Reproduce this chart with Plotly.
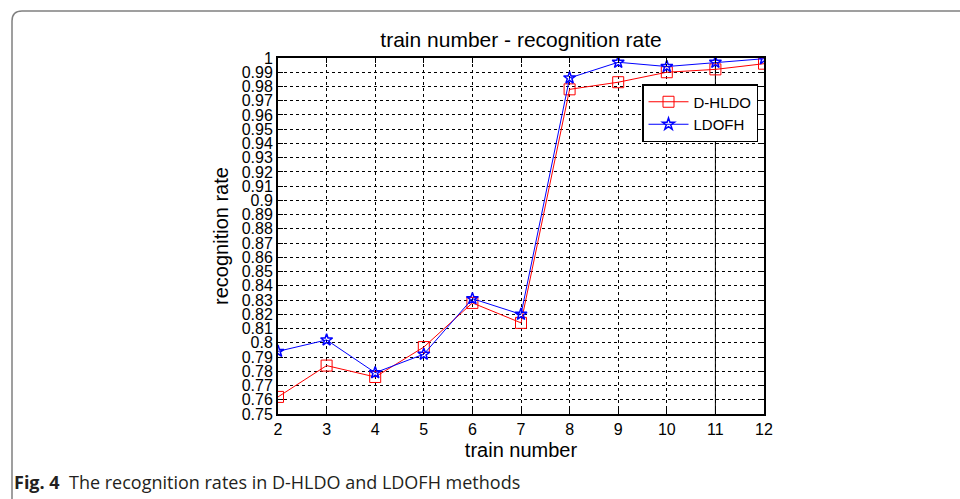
import plotly.graph_objects as go

train_number = [2, 3, 4, 5, 6, 7, 8, 9, 10, 11, 12]
d_hldo = [0.762, 0.784, 0.776, 0.797, 0.828, 0.814, 0.978, 0.983, 0.990, 0.992, 0.996]
ldofh = [0.794, 0.802, 0.779, 0.792, 0.831, 0.820, 0.986, 0.997, 0.994, 0.997, 0.9995]

y_tick_vals = [round(0.75 + 0.01 * i, 2) for i in range(26)]
y_tick_text = ["0.75", "0.76", "0.77", "0.78", "0.79", "0.8", "0.81", "0.82", "0.83", "0.84",
               "0.85", "0.86", "0.87", "0.88", "0.89", "0.9", "0.91", "0.92", "0.93", "0.94",
               "0.95", "0.96", "0.97", "0.98", "0.99", "1"]
x_tick_vals = [2, 3, 4, 5, 6, 7, 8, 9, 10, 11, 12]

W, H = 960, 499
L, R, T, B = 278, 764, 58, 414


def px(X):
    return (X - L) / (R - L)


def py(Y):
    return (B - Y) / (B - T)


fig = go.Figure()
fig.add_trace(go.Scatter(
    x=train_number, y=d_hldo, name="D-HLDO", mode="lines+markers",
    line=dict(color="#ff0000", width=1),
    marker=dict(symbol="square-open", size=11, color="#ff0000", line=dict(width=1)),
))
fig.add_trace(go.Scatter(
    x=train_number, y=ldofh, name="LDOFH", mode="lines+markers",
    line=dict(color="#0000ff", width=1),
    marker=dict(symbol="star-open", size=9, color="#0000ff", line=dict(width=1.5)),
))

font_main = "Liberation Sans, Arial, sans-serif"

# rounded frame path (pixel coords -> paper coords)
r = 10
fx, fy = 12, 11
frame_path = (f"M {px(fx)},{py(H + 5)} L {px(fx)},{py(fy + r)} "
              f"Q {px(fx)},{py(fy)} {px(fx + r)},{py(fy)} L {px(W + 5)},{py(fy)}")

fig.update_layout(
    width=W, height=H,
    margin=dict(l=L, r=W - R, t=T, b=H - B),
    paper_bgcolor="white", plot_bgcolor="white",
    showlegend=True,
    title=dict(text="train number - recognition rate", xref="paper", x=0.5, xanchor="center",
               y=1 - 40 / H, yanchor="middle",
               font=dict(family=font_main, size=21, color="black")),
    xaxis=dict(
        range=[2, 12], tickvals=x_tick_vals, ticks="inside", ticklen=5,
        tickcolor="black", showline=True, linecolor="black", linewidth=2, mirror="ticks",
        showgrid=True, gridcolor="black", gridwidth=1, griddash="3px,3px",
        zeroline=False, tickfont=dict(family=font_main, size=16, color="black"),
        title=dict(text="train number", font=dict(family=font_main, size=20, color="black"),
                   standoff=6),
    ),
    yaxis=dict(
        range=[0.75, 1], tickvals=y_tick_vals, ticktext=y_tick_text, ticks="inside", ticklen=5,
        tickcolor="black", showline=True, linecolor="black", linewidth=2, mirror="ticks",
        showgrid=True, gridcolor="black", gridwidth=1, griddash="3px,3px",
        zeroline=False, tickfont=dict(family=font_main, size=16, color="black"),
        title=dict(text="recognition rate", font=dict(family=font_main, size=20, color="black"),
                   standoff=8),
    ),
    legend=dict(
        x=px(642), y=py(84), xanchor="left", yanchor="top",
        bgcolor="white", bordercolor="black", borderwidth=1.5,
        font=dict(family=font_main, size=15, color="black"),
        tracegroupgap=0, itemwidth=40,
    ),
    shapes=[
        dict(type="line", xref="x", yref="y", x0=11, x1=11, y0=0.75, y1=1,
             line=dict(color="black", width=1), layer="below"),
        dict(type="path", xref="paper", yref="paper", path=frame_path,
             line=dict(color="#808080", width=1.5)),
    ],
    annotations=[
        dict(xref="paper", yref="paper", x=px(12), y=py(482), xanchor="left", yanchor="middle",
             showarrow=False,
             text="<b>Fig. 4</b>  The recognition rates in D-HLDO and LDOFH methods",
             font=dict(family="Open Sans, sans-serif", size=18, color="#231f20")),
    ],
)

fig.write_html("out.html")
